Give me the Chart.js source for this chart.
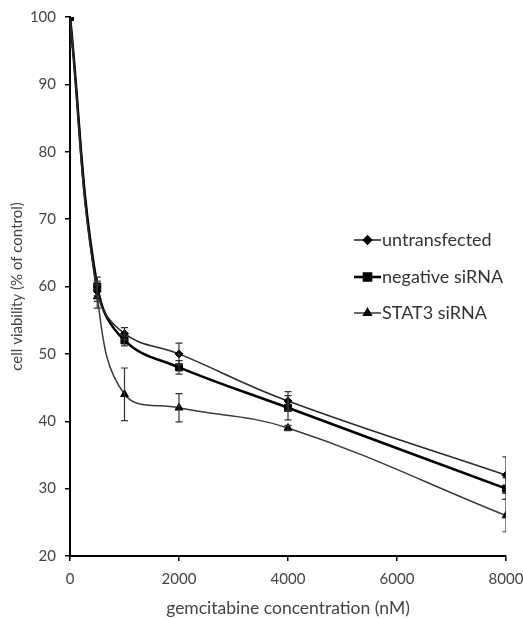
<!DOCTYPE html>
<html>
<head>
<meta charset="utf-8">
<script src="https://cdn.jsdelivr.net/npm/chart.js@4.4.1/dist/chart.umd.min.js"></script>
<style>
  html, body { margin: 0; padding: 0; background: #fff; }
  canvas { display: block; }
</style>
</head>
<body>
<canvas id="c" width="523" height="619"></canvas>
<script>
// ---- data ----
const concentrations = [0, 500, 1000, 2000, 4000, 8000];
const untransfected = [100, 59.3, 53, 50, 43, 32];
const negativeSiRNA = [100, 60, 52, 48, 42, 30];
const stat3SiRNA = [100, 58.5, 44, 42, 39, 26];
const untransfectedErr = [4.5, 1.5, 0.9, 1.6, 1.4, 2.7];
const negativeErr = [0, 1.4, 0.8, 1.0, 1.8, 1.6];
const stat3Err = [0, 1.7, 3.9, 2.1, 0.4, 2.4];
const xTicks = [0, 2000, 4000, 6000, 8000];
const yTicks = [20, 30, 40, 50, 60, 70, 80, 90, 100];
const seriesLabels = ['untransfected', 'negative siRNA', 'STAT3 siRNA'];

const FONT = 'Lato, "Open Sans", sans-serif';
const toPts = (ys) => concentrations.map((x, i) => ({x, y: ys[i]}));

const errorBarPlugin = {
  id: 'errorBars',
  afterDatasetsDraw(chart) {
    const {ctx, chartArea, scales: {x, y}} = chart;
    ctx.save();
    ctx.beginPath();
    ctx.rect(chartArea.left, chartArea.top, chartArea.width, chartArea.height);
    ctx.clip();
    chart.data.datasets.forEach((ds) => {
      const errs = ds.errors || [];
      ctx.strokeStyle = '#333';
      ctx.lineWidth = 1.2;
      ds.data.forEach((p, i) => {
        const e = errs[i];
        if (!e) return;
        const px = x.getPixelForValue(p.x);
        const yTop = y.getPixelForValue(p.y + e);
        const yBot = y.getPixelForValue(p.y - e);
        ctx.beginPath();
        ctx.moveTo(px, yTop); ctx.lineTo(px, yBot);
        ctx.moveTo(px - 3.5, yTop); ctx.lineTo(px + 3.5, yTop);
        ctx.moveTo(px - 3.5, yBot); ctx.lineTo(px + 3.5, yBot);
        ctx.stroke();
      });
    });
    ctx.restore();
  }
};

const legendPlugin = {
  id: 'customLegend',
  afterDraw(chart) {
    const {ctx} = chart;
    const x0 = 354, x1 = 381, rowsY = [240, 277, 313];
    ctx.save();
    chart.data.datasets.forEach((ds, i) => {
      const y = rowsY[i];
      ctx.strokeStyle = ds.borderColor;
      ctx.lineWidth = ds.borderWidth;
      ctx.beginPath();
      ctx.moveTo(x0, y); ctx.lineTo(x1, y);
      ctx.stroke();
      ctx.fillStyle = '#000';
      ctx.strokeStyle = '#000';
      Chart.helpers.drawPoint(ctx, {
        pointStyle: ds.pointStyle,
        radius: ds.pointRadius,
        rotation: 0,
        borderWidth: 1
      }, (x0 + x1) / 2, y);
      ctx.fillStyle = '#333';
      ctx.font = '18px ' + FONT;
      ctx.textBaseline = 'middle';
      ctx.textAlign = 'left';
      ctx.fillText(ds.label, x1 + 1, y);
    });
    ctx.restore();
  }
};

new Chart(document.getElementById('c'), {
  type: 'line',
  data: {
    datasets: [
      {
        label: seriesLabels[0], data: toPts(untransfected), errors: untransfectedErr,
        borderColor: '#2a2a2a', backgroundColor: '#000', borderWidth: 1.6,
        pointStyle: 'rectRot', pointRadius: 4, pointBorderWidth: 1, pointBorderColor: '#000', pointBackgroundColor: '#000',
        tension: 0.4
      },
      {
        label: seriesLabels[1], data: toPts(negativeSiRNA), errors: negativeErr,
        borderColor: '#000', backgroundColor: '#000', borderWidth: 2.6,
        pointStyle: 'rect', pointRadius: 5, pointBorderWidth: 1, pointBorderColor: '#000', pointBackgroundColor: '#000',
        tension: 0.4
      },
      {
        label: seriesLabels[2], data: toPts(stat3SiRNA), errors: stat3Err,
        borderColor: '#3a3a3a', backgroundColor: '#000', borderWidth: 1.5,
        pointStyle: 'triangle', pointRadius: 4.5, pointBorderWidth: 1, pointBorderColor: '#000', pointBackgroundColor: '#000',
        tension: 0.4
      }
    ]
  },
  options: {
    responsive: false,
    animation: false,
    layout: { padding: { top: 17, right: 17, left: 0, bottom: 0 } },
    plugins: { legend: { display: false }, tooltip: { enabled: false } },
    scales: {
      x: {
        type: 'linear', min: 0, max: 8000,
        afterFit(s) { s.height = 63; s.paddingRight = 0; s.paddingLeft = 0; },
        afterBuildTicks(s) { s.ticks = xTicks.map(v => ({value: v})); },
        border: { display: true, color: '#000', width: 2 },
        grid: { display: true, drawOnChartArea: false, drawTicks: true, tickLength: 5, color: '#000', lineWidth: 1.5 },
        ticks: { color: '#444', font: { family: FONT, size: 15 }, padding: 9, maxRotation: 0, callback: (v) => String(v) },
        title: { display: true, text: 'gemcitabine concentration (nM)', color: '#444', font: { family: FONT, size: 17.5 }, padding: { bottom: 0, top: 0 } }
      },
      y: {
        type: 'linear', min: 20, max: 100,
        afterFit(s) { s.width = 70; s.paddingTop = 0; s.paddingBottom = 0; },
        afterBuildTicks(s) { s.ticks = yTicks.map(v => ({value: v})); },
        border: { display: true, color: '#000', width: 2 },
        grid: { display: true, drawOnChartArea: false, drawTicks: true, tickLength: 5, color: '#000', lineWidth: 1.5 },
        ticks: { color: '#444', font: { family: FONT, size: 15 }, padding: 9, callback: (v) => String(v) },
        title: { display: true, text: 'cell viability (% of control)', color: '#444', font: { family: FONT, size: 15 }, padding: { top: 8, bottom: 0 } }
      }
    }
  },
  plugins: [errorBarPlugin, legendPlugin]
});
</script>
</body>
</html>
